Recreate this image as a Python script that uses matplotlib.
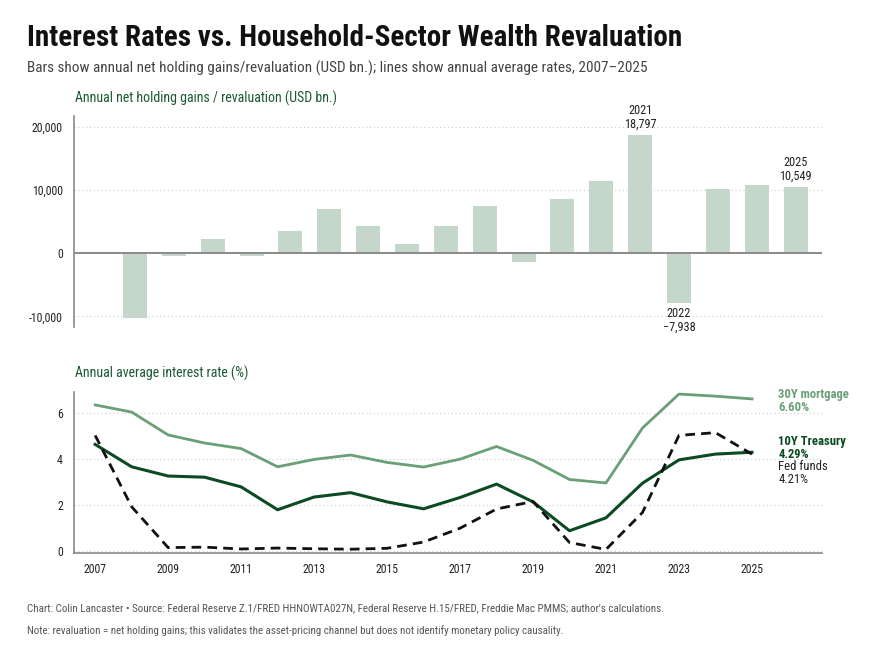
import matplotlib
matplotlib.use("Agg")
import matplotlib.pyplot as plt
from matplotlib.ticker import FuncFormatter

plt.rcParams['font.family'] = ['Roboto Condensed', 'DejaVu Sans']

years = list(range(2007, 2026))
# household net holding gains / revaluation, USD bn
revaluation = [250, -10300, -450, 2200, -500, 3500, 7000, 4300, 1450, 4300,
               7450, -1400, 8550, 11400, 18797, -7938, 10150, 10800, 10549]
# annual average rates, %
mortgage_30y = [6.34, 6.03, 5.04, 4.69, 4.45, 3.66, 3.98, 4.17, 3.85, 3.65,
                3.99, 4.54, 3.94, 3.11, 2.96, 5.34, 6.81, 6.72, 6.60]
treasury_10y = [4.63, 3.66, 3.26, 3.21, 2.79, 1.80, 2.35, 2.54, 2.14, 1.84,
                2.33, 2.91, 2.14, 0.89, 1.45, 2.95, 3.96, 4.21, 4.29]
fed_funds = [5.02, 1.93, 0.16, 0.18, 0.10, 0.14, 0.11, 0.09, 0.13, 0.40,
             1.00, 1.83, 2.16, 0.38, 0.08, 1.68, 5.02, 5.14, 4.21]
labelled_years = [2021, 2022, 2025]

BAR = '#c4d7ca'
MORT = '#6a9f77'
TSY = '#0b4a22'
FED = '#111111'
HEAD = '#1d5a33'
AXIS = '#8a8a8a'

fig = plt.figure(figsize=(8.77, 6.58), dpi=100)
W, H = 877, 658

def box(x0, y0, x1, y1):
    return [x0 / W, 1 - y1 / H, (x1 - x0) / W, (y1 - y0) / H]

ax1 = fig.add_axes(box(74, 116, 822, 327))
ax2 = fig.add_axes(box(74, 392, 822, 553))

# --- top panel: bars
ax1.bar(years, revaluation, width=0.62, color=BAR, zorder=2)
ax1.axhline(0, color=AXIS, lw=1.4, zorder=3)
ax1.set_xlim(2006.43, 2025.68)
ax1.set_ylim(-11700, 21750)
ax1.set_yticks([-10000, 0, 10000, 20000])
ax1.yaxis.set_major_formatter(FuncFormatter(lambda v, p: f"{v:,.0f}"))
ax1.set_xticks([])
ax1.grid(axis='y', color='#cccccc', ls=(0, (1, 2.5)), lw=0.8, zorder=0)
for s in ['top', 'right', 'bottom']:
    ax1.spines[s].set_visible(False)
ax1.spines['left'].set_color(AXIS)
ax1.spines['left'].set_linewidth(1.2)
ax1.tick_params(axis='y', length=0, labelsize=8.5, pad=8, labelcolor='#222222')

for yr in labelled_years:
    v = revaluation[years.index(yr)]
    txt = f"{yr}\n{v:,.0f}".replace('-', '\u2212')
    if v >= 0:
        ax1.annotate(txt, (yr, v), xytext=(0, 3), textcoords='offset points',
                     ha='center', va='bottom', fontsize=8.8, color='#222222', linespacing=1.05)
    else:
        ax1.annotate(txt, (yr, v), xytext=(0, -3), textcoords='offset points',
                     ha='center', va='top', fontsize=8.8, color='#222222', linespacing=1.05)

fig.text(75 / W, 1 - 98 / H, 'Annual net holding gains / revaluation (USD bn.)',
         fontsize=10, color=HEAD, va='center', ha='left')

# --- bottom panel: rates
ax2.plot(years, mortgage_30y, color=MORT, lw=2.0, zorder=3)
ax2.plot(years, treasury_10y, color=TSY, lw=2.2, zorder=4)
ax2.plot(years, fed_funds, color=FED, lw=2.0, dashes=(3.5, 2.2), zorder=5)
ax2.set_xlim(2006.42, 2026.92)
ax2.set_ylim(-0.074, 6.9)
ax2.set_yticks([0, 2, 4, 6])
ax2.set_xticks(years[::2])
ax2.grid(axis='y', color='#cccccc', ls=(0, (1, 2.5)), lw=0.8, zorder=0)
for s in ['top', 'right']:
    ax2.spines[s].set_visible(False)
for s in ['left', 'bottom']:
    ax2.spines[s].set_color(AXIS)
    ax2.spines[s].set_linewidth(1.2)
ax2.tick_params(axis='y', length=0, labelsize=8.5, pad=8, labelcolor='#222222')
ax2.tick_params(axis='x', length=0, labelsize=8.5, pad=7, labelcolor='#222222')

lx = years[-1] + 0.72
ax2.text(lx, mortgage_30y[-1] - 0.1, f"30Y mortgage\n{mortgage_30y[-1]:.2f}%", color=MORT,
         fontsize=9.1, fontweight='bold', va='center', ha='left', linespacing=1.0)
ax2.text(lx, treasury_10y[-1] + 0.2, f"10Y Treasury\n{treasury_10y[-1]:.2f}%", color=TSY,
         fontsize=9.1, fontweight='bold', va='center', ha='left', linespacing=1.0)
ax2.text(lx, fed_funds[-1] - 0.8, f"Fed funds\n{fed_funds[-1]:.2f}%", color='#222222',
         fontsize=9.1, va='center', ha='left', linespacing=1.0)

fig.text(75 / W, 1 - 373 / H, 'Annual average interest rate (%)',
         fontsize=10, color=HEAD, va='center', ha='left')

# --- titles & footer
fig.text(27 / W, 1 - 38 / H, 'Interest Rates vs. Household-Sector Wealth Revaluation',
         fontsize=21, fontweight='bold', color='#111111', va='center', ha='left')
fig.text(27 / W, 1 - 68 / H,
         'Bars show annual net holding gains/revaluation (USD bn.); lines show annual average rates, 2007\u20132025',
         fontsize=11.0, color='#444444', va='center', ha='left')
fig.text(27 / W, 1 - 608 / H,
         "Chart: Colin Lancaster \u2022 Source: Federal Reserve Z.1/FRED HHNOWTA027N, Federal Reserve H.15/FRED, "
         "Freddie Mac PMMS; author's calculations.",
         fontsize=7.9, color='#555555', va='center', ha='left')
fig.text(27 / W, 1 - 631 / H,
         'Note: revaluation = net holding gains; this validates the asset-pricing channel but does not identify '
         'monetary policy causality.',
         fontsize=7.8, color='#555555', va='center', ha='left')

fig.savefig('out.png', dpi=100, facecolor='white')
